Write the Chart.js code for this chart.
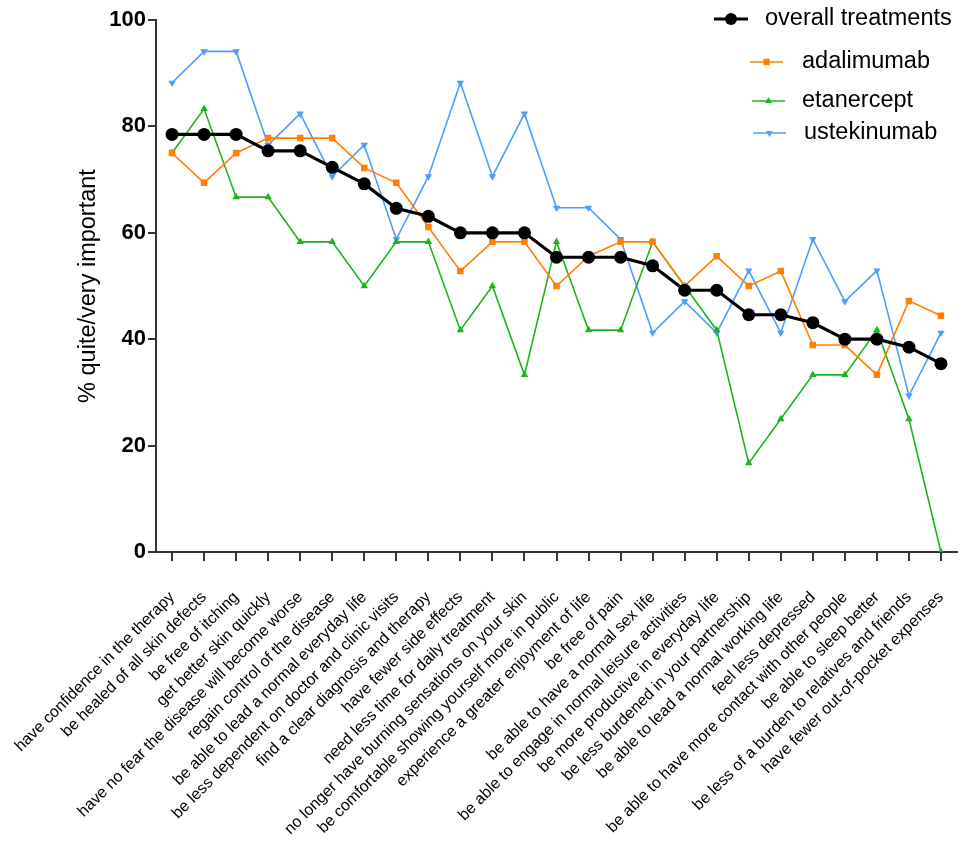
<!DOCTYPE html>
<html>
<head>
<meta charset="utf-8">
<script src="https://cdn.jsdelivr.net/npm/chart.js@4/dist/chart.umd.min.js"></script>
<style>
html,body{margin:0;padding:0;background:#fff;}
#wrap{width:973px;height:843px;position:relative;}
</style>
</head>
<body>
<div id="wrap"><canvas id="c" width="973" height="843"></canvas></div>
<script>
const categories = [
  "have confidence in the therapy",
  "be healed of all skin defects",
  "be free of itching",
  "get better skin quickly",
  "have no fear the disease will become worse",
  "regain control of the disease",
  "be able to lead a normal everyday life",
  "be less dependent on doctor and clinic visits",
  "find a clear diagnosis and therapy",
  "have fewer side effects",
  "need less time for daily treatment",
  "no longer have burning sensations on your skin",
  "be comfortable showing yourself more in public",
  "experience a greater enjoyment of life",
  "be free of pain",
  "be able to have a normal sex life",
  "be able to engage in normal leisure activities",
  "be more productive in everyday life",
  "be less burdened in your partnership",
  "be able to lead a normal working life",
  "feel less depressed",
  "be able to have more contact with other people",
  "be able to sleep better",
  "be less of a burden to relatives and friends",
  "have fewer out-of-pocket expenses"
];
const overall = [78.5,78.5,78.5,75.4,75.4,72.3,69.2,64.6,63.1,60.0,60.0,60.0,55.4,55.4,55.4,53.8,49.2,49.2,44.6,44.6,43.1,40.0,40.0,38.5,35.4];
const adalimumab = [75.0,69.4,75.0,77.8,77.8,77.8,72.2,69.4,61.1,52.8,58.3,58.3,50.0,55.6,58.3,58.3,50.0,55.6,50.0,52.8,38.9,38.9,33.3,47.2,44.4];
const etanercept = [75.0,83.3,66.7,66.7,58.3,58.3,50.0,58.3,58.3,41.7,50.0,33.3,58.3,41.7,41.7,58.3,50.0,41.7,16.7,25.0,33.3,33.3,41.7,25.0,0.0];
const ustekinumab = [88.2,94.1,94.1,76.5,82.4,70.6,76.5,58.8,70.6,88.2,70.6,82.4,64.7,64.7,58.8,41.2,47.1,41.2,52.9,41.2,58.8,47.1,52.9,29.4,41.2];
const yTicks = [0,20,40,60,80,100];
const seriesNames = ["overall treatments","adalimumab","etanercept","ustekinumab"];

const COL_BLACK = '#000000';
const COL_ORANGE = '#ff8000';
const COL_GREEN = '#1cb41c';
const COL_BLUE = '#4d9dff';
const AXIS = '#333333';

function drawMarker(ctx, style, x, y, r, rot) {
  if (style === 'circle') { ctx.arc(x, y, r, 0, Math.PI * 2); }
  else if (style === 'rect') { const s = r * Math.SQRT1_2; ctx.rect(x - s, y - s, 2 * s, 2 * s); }
  else {
    const a = rot * Math.PI / 180;
    for (let i = 0; i < 3; i++) {
      const ang = a - Math.PI / 2 + i * 2 * Math.PI / 3;
      const px = x + Math.cos(ang) * r, py = y + Math.sin(ang) * r;
      if (i === 0) ctx.moveTo(px, py); else ctx.lineTo(px, py);
    }
    ctx.closePath();
  }
}

const legendPlugin = {
  id: 'customLegend',
  afterDraw(chart) {
    const ctx = chart.ctx;
    const items = [
      {label: seriesNames[0], color: COL_BLACK, style: 'circle', x1: 714, x2: 748, y: 19, tx: 765, lw: 3, r: 6, rot: 0},
      {label: seriesNames[1], color: COL_ORANGE, style: 'rect', x1: 750, x2: 783, y: 62, tx: 802, lw: 1.5, r: 4.5, rot: 0},
      {label: seriesNames[2], color: COL_GREEN, style: 'triangle', x1: 752, x2: 785, y: 101, tx: 802, lw: 1.5, r: 4, rot: 0},
      {label: seriesNames[3], color: COL_BLUE, style: 'triangle', x1: 753, x2: 786, y: 133, tx: 804, lw: 1.5, r: 4, rot: 180}
    ];
    ctx.save();
    items.forEach(it => {
      ctx.strokeStyle = it.color;
      ctx.lineWidth = it.lw;
      ctx.beginPath();
      ctx.moveTo(it.x1, it.y);
      ctx.lineTo(it.x2, it.y);
      ctx.stroke();
      ctx.fillStyle = it.color;
      ctx.beginPath();
      drawMarker(ctx, it.style, (it.x1 + it.x2) / 2, it.y, it.r, it.rot);
      ctx.fill();
      ctx.fillStyle = '#000';
      ctx.font = '23.5px "Liberation Sans", Arial, sans-serif';
      ctx.textBaseline = 'middle';
      ctx.textAlign = 'left';
      ctx.fillText(it.label, it.tx, it.y);
    });
    ctx.restore();
  }
};

Chart.defaults.font.family = '"Liberation Sans", Arial, sans-serif';
Chart.defaults.color = '#000';

new Chart(document.getElementById('c'), {
  type: 'line',
  data: {
    labels: categories,
    datasets: [
      {label: seriesNames[0], data: overall, borderColor: COL_BLACK, backgroundColor: COL_BLACK, borderWidth: 3.2, pointStyle: 'circle', pointRadius: 6.5, pointBorderWidth: 0, tension: 0},
      {label: seriesNames[1], data: adalimumab, borderColor: COL_ORANGE, backgroundColor: COL_ORANGE, borderWidth: 1.6, pointStyle: 'rect', pointRadius: 4.6, pointBorderWidth: 0, tension: 0},
      {label: seriesNames[2], data: etanercept, borderColor: COL_GREEN, backgroundColor: COL_GREEN, borderWidth: 1.6, pointStyle: 'triangle', pointRadius: 4.3, pointBorderWidth: 0, tension: 0},
      {label: seriesNames[3], data: ustekinumab, borderColor: COL_BLUE, backgroundColor: COL_BLUE, borderWidth: 1.6, pointStyle: 'triangle', pointRotation: 180, pointRadius: 4.3, pointBorderWidth: 0, tension: 0}
    ]
  },
  options: {
    responsive: false,
    animation: false,
    layout: {padding: {top: 20, right: 16, left: 0, bottom: 0}},
    plugins: {legend: {display: false}, tooltip: {enabled: false}},
    scales: {
      x: {
        type: 'category',
        offset: true,
        border: {display: true, color: AXIS, width: 2},
        grid: {display: true, offset: false, drawOnChartArea: false, drawTicks: true, tickLength: 9, color: AXIS, lineWidth: 2},
        ticks: {autoSkip: false, minRotation: 45, maxRotation: 45, padding: 27, color: '#000', font: {size: 16}},
        afterFit(scale) { scale.height = 843 - 552; scale.paddingLeft = 0; scale.paddingRight = 0; }
      },
      y: {
        min: 0, max: 100,
        border: {display: true, color: AXIS, width: 2},
        grid: {display: true, drawOnChartArea: false, drawTicks: true, tickLength: 8, color: AXIS, lineWidth: 2},
        afterBuildTicks(scale) { scale.ticks = yTicks.map(v => ({value: v})); },
        ticks: {padding: 2, color: '#000', font: {size: 22, weight: 'bold'}},
        title: {display: true, text: '% quite/very important', color: '#000', font: {size: 23.5}, padding: {top: 74, bottom: 0}},
        afterFit(scale) { scale.width = 156; scale.paddingTop = 0; scale.paddingBottom = 0; }
      }
    }
  },
  plugins: [legendPlugin]
});
</script>
</body>
</html>
